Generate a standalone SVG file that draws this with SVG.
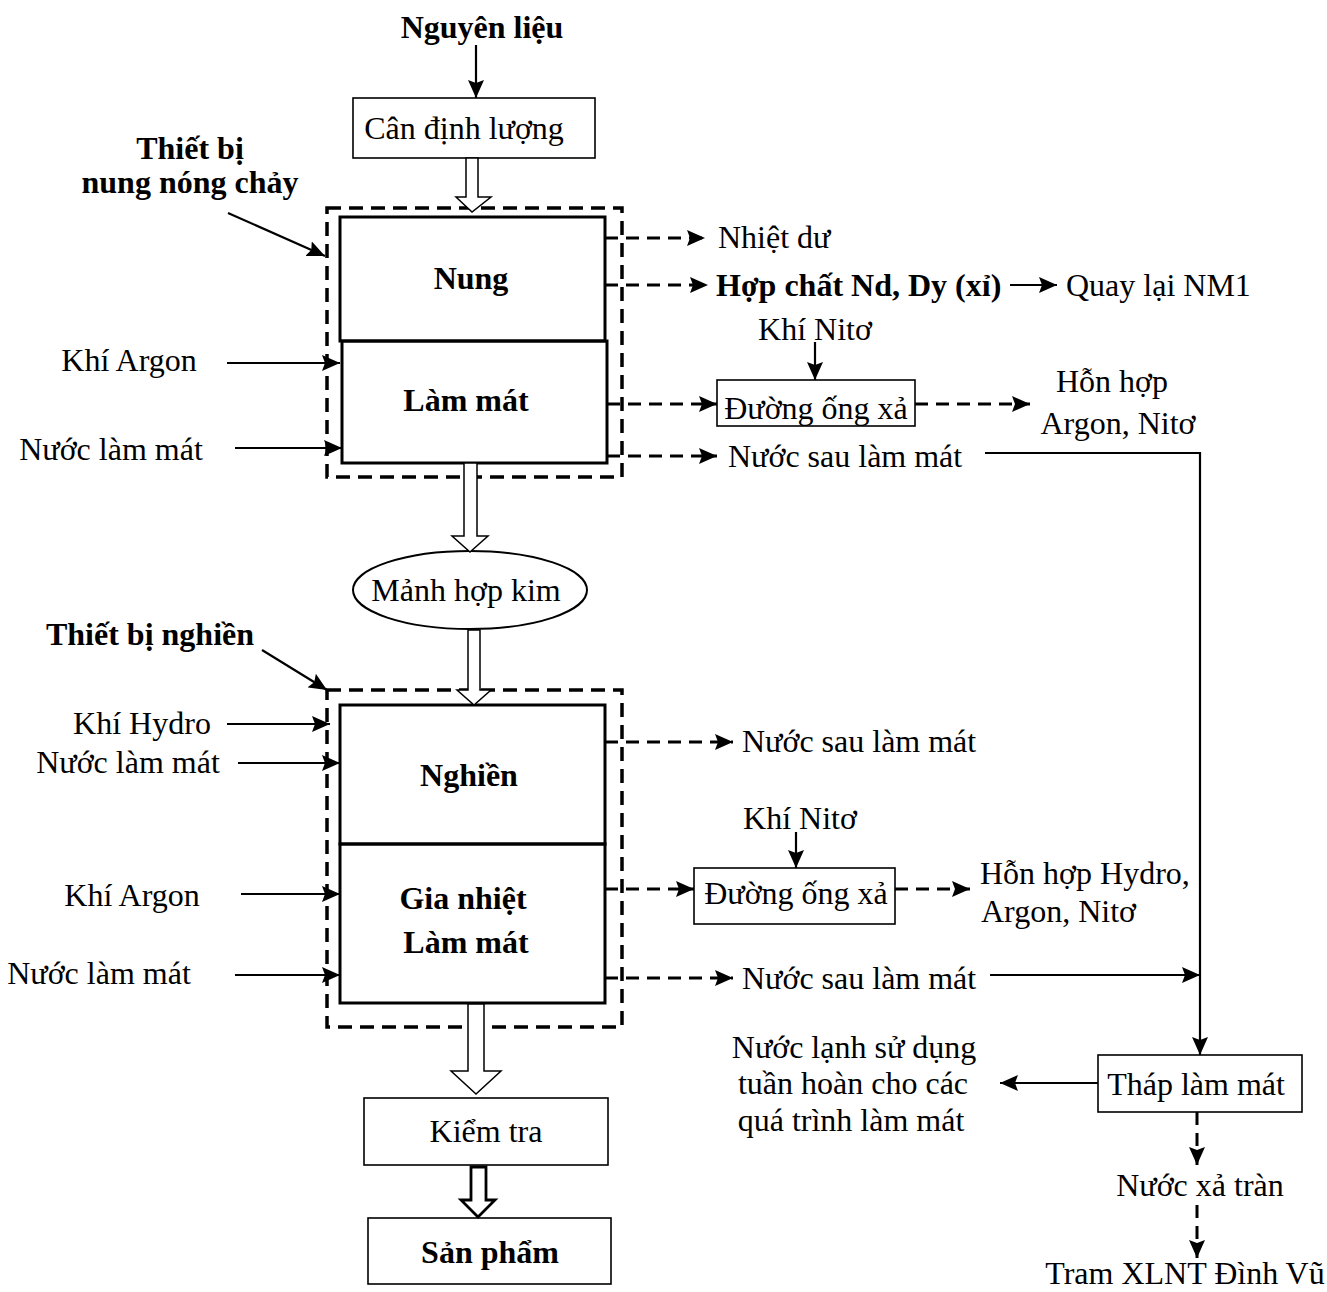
<svg xmlns="http://www.w3.org/2000/svg" width="1327" height="1292" viewBox="0 0 1327 1292">
<style>
text{font-family:"Liberation Serif","Times New Roman",serif;font-size:32px;fill:#000}
.b{font-weight:bold}
.m{text-anchor:middle}
.ln{stroke:#000;stroke-width:2.2;fill:none}
.dl{stroke:#000;stroke-width:3;fill:none;stroke-dasharray:13 8}
.box{fill:#fff;stroke:#000;stroke-width:1.6}
.main{fill:none;stroke:#000;stroke-width:3}
.dbox{fill:none;stroke:#000;stroke-width:3.5;stroke-dasharray:14 8}
.ha{fill:#fff;stroke:#000;stroke-width:1.5}
</style>
<defs>
<marker id="ah" markerUnits="userSpaceOnUse" markerWidth="20" markerHeight="16" refX="18" refY="8" orient="auto">
<path d="M0,0 L18,8 L0,16 L3,8 z" fill="#000"/>
</marker>
</defs>

<g id="containers">
<rect class="dbox" x="327" y="208" width="295" height="269"/>
<rect class="dbox" x="327" y="690" width="295" height="337"/>
</g>

<g id="n-nguyenlieu"><text class="b m" x="482" y="38">Nguyên liệu</text></g>
<g id="n-can"><rect class="box" x="353" y="98" width="242" height="60"/><text class="m" x="464" y="139">Cân định lượng</text></g>
<g id="n-nung"><rect class="main" x="340" y="217" width="265" height="124"/><text class="b m" x="471" y="289">Nung</text></g>
<g id="n-lammat1"><rect class="main" x="342" y="341" width="265" height="122"/><text class="b m" x="466" y="411">Làm mát</text></g>
<g id="n-manh"><ellipse cx="470" cy="590" rx="117" ry="39" fill="#fff" stroke="#000" stroke-width="2"/><text class="m" x="466" y="601">Mảnh hợp kim</text></g>
<g id="n-nghien"><rect class="main" x="340" y="705" width="265" height="139"/><text class="b m" x="469" y="786">Nghiền</text></g>
<g id="n-gianhiet"><rect class="main" x="340" y="844" width="265" height="159"/><text class="b m" x="463" y="909">Gia nhiệt</text><text class="b m" x="466" y="953">Làm mát</text></g>
<g id="n-kiemtra"><rect class="box" x="364" y="1098" width="244" height="67"/><text class="m" x="486" y="1142">Kiểm tra</text></g>
<g id="n-sanpham"><rect class="box" x="368" y="1218" width="243" height="66"/><text class="b m" x="490" y="1263">Sản phẩm</text></g>
<g id="n-ong1"><rect class="box" x="717" y="380" width="198" height="46"/><text class="m" x="816" y="419">Đường ống xả</text></g>
<g id="n-ong2"><rect class="box" x="694" y="868" width="201" height="56"/><text class="m" x="796" y="904">Đường ống xả</text></g>
<g id="n-thap"><rect class="box" x="1098" y="1055" width="204" height="57"/><text class="m" x="1196" y="1095">Tháp làm mát</text></g>

<g id="labels">
<text class="b m" x="190" y="159">Thiết bị</text>
<text class="b m" x="190" y="193">nung nóng chảy</text>
<text class="m" x="129" y="371">Khí Argon</text>
<text class="m" x="111" y="460">Nước làm mát</text>
<text class="b m" x="150" y="645">Thiết bị nghiền</text>
<text class="m" x="142" y="734">Khí Hydro</text>
<text class="m" x="128" y="773">Nước làm mát</text>
<text class="m" x="132" y="906">Khí Argon</text>
<text class="m" x="99" y="984">Nước làm mát</text>
<text x="718" y="248">Nhiệt dư</text>
<text class="b" x="716" y="296">Hợp chất Nd, Dy (xỉ)</text>
<text x="1066" y="296">Quay lại NM1</text>
<text class="m" x="815" y="340">Khí Nitơ</text>
<text class="m" x="1112" y="392">Hỗn hợp</text>
<text class="m" x="1118" y="434">Argon, Nitơ</text>
<text x="728" y="467">Nước sau làm mát</text>
<text x="742" y="752">Nước sau làm mát</text>
<text class="m" x="800" y="829">Khí Nitơ</text>
<text x="980" y="884">Hỗn hợp Hydro,</text>
<text x="981" y="922">Argon, Nitơ</text>
<text x="742" y="989">Nước sau làm mát</text>
<text class="m" x="854" y="1058">Nước lạnh sử dụng</text>
<text class="m" x="853" y="1094">tuần hoàn cho các</text>
<text class="m" x="851" y="1131">quá trình làm mát</text>
<text class="m" x="1200" y="1196">Nước xả tràn</text>
<text class="m" x="1185" y="1284">Tram XLNT Đình Vũ</text>
</g>

<g id="connectors">
<line class="ln" x1="476" y1="45" x2="476" y2="98" marker-end="url(#ah)"/>
<polygon class="ha" points="466,158 478,158 478,197 491,197 472,212 456,197 466,197"/>
<polygon class="ha" points="464,463 477,463 477,536 488,536 470,552 452,536 464,536"/>
<polygon class="ha" points="468,630 480,630 480,690 491,690 474,705 457,690 468,690"/>
<polygon class="ha" points="468,1004 484,1004 484,1071 501,1071 476,1094 451,1071 468,1071"/>
<polygon class="ha" style="stroke-width:2.8" points="471,1167 486,1167 486,1200 495,1200 478,1217 461,1200 471,1200"/>

<line class="ln" x1="228" y1="213" x2="325" y2="256" marker-end="url(#ah)"/>
<line class="ln" x1="262" y1="650" x2="327" y2="690" marker-end="url(#ah)"/>

<line class="ln" x1="227" y1="363" x2="340" y2="363" marker-end="url(#ah)"/>
<line class="ln" x1="235" y1="448" x2="342" y2="448" marker-end="url(#ah)"/>
<line class="ln" x1="227" y1="724" x2="330" y2="724" marker-end="url(#ah)"/>
<line class="ln" x1="238" y1="763" x2="340" y2="763" marker-end="url(#ah)"/>
<line class="ln" x1="241" y1="894" x2="340" y2="894" marker-end="url(#ah)"/>
<line class="ln" x1="235" y1="975" x2="340" y2="975" marker-end="url(#ah)"/>

<line class="dl" x1="605" y1="238" x2="705" y2="238" marker-end="url(#ah)"/>
<line class="dl" x1="605" y1="285" x2="708" y2="285" marker-end="url(#ah)"/>
<line class="ln" x1="1010" y1="285" x2="1057" y2="285" marker-end="url(#ah)"/>
<line class="ln" x1="815" y1="342" x2="815" y2="380" marker-end="url(#ah)"/>
<line class="dl" x1="607" y1="404" x2="717" y2="404" marker-end="url(#ah)"/>
<line class="dl" x1="915" y1="404" x2="1030" y2="404" marker-end="url(#ah)"/>
<line class="dl" x1="607" y1="456" x2="717" y2="456" marker-end="url(#ah)"/>
<polyline class="ln" points="985,453 1200,453 1200,1055" marker-end="url(#ah)"/>

<line class="dl" x1="605" y1="742" x2="733" y2="742" marker-end="url(#ah)"/>
<line class="ln" x1="796" y1="832" x2="796" y2="868" marker-end="url(#ah)"/>
<line class="dl" x1="605" y1="889" x2="694" y2="889" marker-end="url(#ah)"/>
<line class="dl" x1="895" y1="889" x2="970" y2="889" marker-end="url(#ah)"/>
<line class="dl" x1="605" y1="978" x2="733" y2="978" marker-end="url(#ah)"/>
<line class="ln" x1="990" y1="975" x2="1200" y2="975" marker-end="url(#ah)"/>

<line class="ln" x1="1098" y1="1083" x2="1000" y2="1083" marker-end="url(#ah)"/>
<line class="dl" x1="1197" y1="1112" x2="1197" y2="1165" marker-end="url(#ah)"/>
<line class="dl" x1="1197" y1="1205" x2="1197" y2="1258" marker-end="url(#ah)"/>
</g>
</svg>
